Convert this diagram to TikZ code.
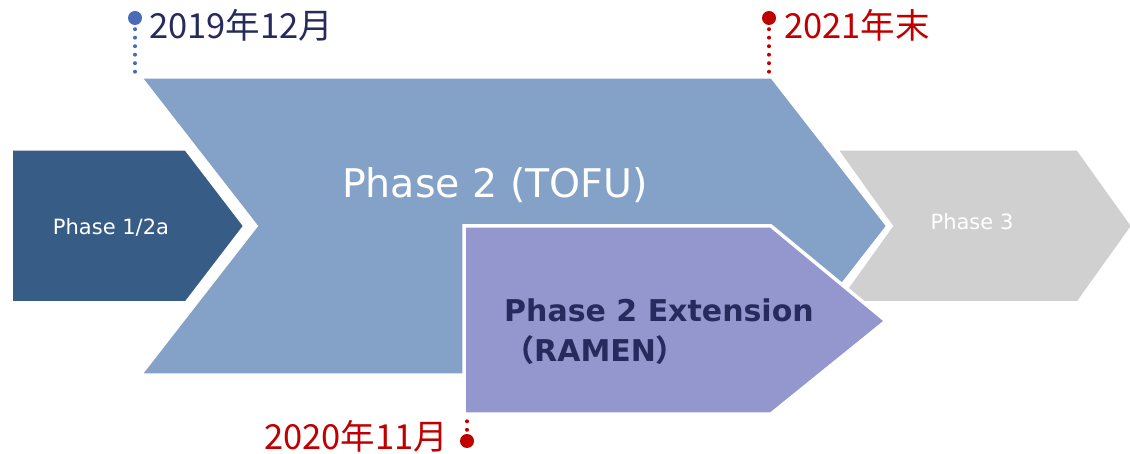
\documentclass[tikz,border=0pt]{standalone}
\usepackage{fontspec}
\setmainfont{DejaVu Sans}
\newfontfamily\cjk{Noto Sans CJK JP}
\definecolor{darkblue}{HTML}{375D87}
\definecolor{lightblue}{HTML}{84A1C7}
\definecolor{greyph}{HTML}{D0D0D0}
\definecolor{purpleph}{HTML}{9497CE}
\definecolor{navytext}{HTML}{262A5C}
\definecolor{redtext}{HTML}{C00000}
\definecolor{pinblue}{HTML}{4A6CB8}
\tikzset{
  shapefill/.style={draw=white, line width=3.5pt, line join=miter},
  dotline/.style={line width=4pt, dash pattern=on 0pt off 8.5pt, line cap=round},
  pindot/.style={circle, inner sep=0pt, minimum size=14pt},
  datelabel/.style={anchor=west, inner sep=0pt, font=\cjk\fontsize{34.5}{38}\selectfont},
}
\begin{document}
\begin{tikzpicture}[x=1pt,y=-1pt]
\useasboundingbox (0,0) rectangle (1130,454);
% Phase 3
\fill[greyph, shapefill] (836,149) -- (1078,149) -- (1133,226) -- (1078,303) -- (836,303) -- (891,226) -- cycle;
% Phase 2 TOFU
\fill[lightblue, shapefill] (140,77) -- (772,77) -- (888,226) -- (772,375) -- (140,375) -- (256,226) -- cycle;
% Phase 1/2a
\fill[darkblue, shapefill] (11,149) -- (186,149) -- (245,226) -- (186,303) -- (11,303) -- cycle;
% RAMEN
\fill[purpleph, shapefill] (464,226) -- (771,226) -- (886,321) -- (771,414) -- (464,414) -- cycle;

% texts
\node[text=white, font=\fontsize{21}{24}\selectfont] (p1) at (111,227) {Phase 1/2a};
\node[text=white, font=\fontsize{39.5}{44}\selectfont] (p2) at (495,185) {Phase 2 (TOFU)};
\node[text=white, font=\fontsize{21}{24}\selectfont] (p3) at (972,222) {Phase 3};
\node[text=navytext, font=\bfseries\fontsize{30}{40}\selectfont, anchor=west, align=left, inner sep=0pt] (ramen) at (504,332)
  {Phase 2 Extension\\{\cjk\bfseries （}RAMEN{\cjk\bfseries ）}};

% pins
\node[pindot, fill=pinblue] (pinA) at (135,18) {};
\coordinate (pinAend) at (135,73);
\draw[dotline, pinblue] ([yshift=-4pt]pinA.south) -- (pinAend);
\node[datelabel, text=navytext] (dA) at (149,25) {2019年12月};

\node[pindot, fill=redtext] (pinB) at (769,18) {};
\coordinate (pinBend) at (769,73);
\draw[dotline, redtext] ([yshift=-4pt]pinB.south) -- (pinBend);
\node[datelabel, text=redtext] (dB) at (784,25) {2021年末};

\node[pindot, fill=redtext] (pinC) at (467,441) {};
\coordinate (pinCend) at (467,417);
\draw[dotline, redtext] ([yshift=4pt]pinC.north) -- (pinCend);
\node[datelabel, text=redtext] (dC) at (264,436) {2020年11月};
\end{tikzpicture}
\end{document}
